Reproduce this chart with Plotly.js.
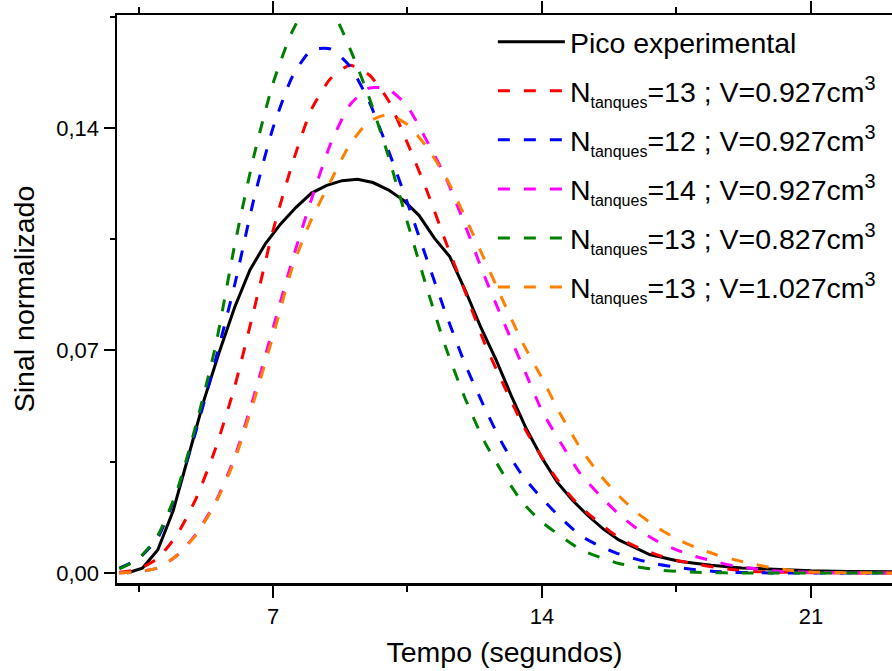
<!DOCTYPE html>
<html>
<head>
<meta charset="utf-8">
<script src="https://cdn.plot.ly/plotly-3.0.1.min.js"></script>
<style>
  html, body { margin: 0; padding: 0; background: #ffffff; overflow: hidden; }
  #chart { width: 892px; height: 671px; }
</style>
</head>
<body>
<div id="chart"></div>
<script>
// Experimental peak (time in s, normalized signal)
const tExp = [3.2,3.6,4.0,4.4,4.8,5.2,5.6,6.0,6.4,6.8,7.2,7.6,8.0,8.4,8.8,9.2,9.6,10.0,10.4,10.8,11.2,11.6,12.0,12.4,12.8,13.2,13.6,14.0,14.4,14.8,15.2,15.6,16.0,16.8,17.6,18.4,19.2,20.0,21.0,22.0,23.5];
const picoExp = [0.0000,0.0015,0.0072,0.0195,0.0368,0.0542,0.0694,0.0835,0.0953,0.1035,0.1098,0.1150,0.1195,0.1219,0.1234,0.1238,0.1228,0.1205,0.1172,0.1125,0.1053,0.0995,0.0890,0.0775,0.0672,0.0558,0.0452,0.0362,0.0285,0.0228,0.0180,0.0138,0.0104,0.0058,0.0036,0.0024,0.0016,0.0011,0.0007,0.0005,0.0004];

// Model curves (tanks-in-series), common time grid
const tSim = [3.0,3.5,4.0,4.5,5.0,5.5,6.0,6.5,7.0,7.5,8.0,8.5,9.0,9.5,10.0,10.5,11.0,11.5,12.0,12.5,13.0,13.5,14.0,14.5,15.0,15.5,16.0,16.5,17.0,17.5,18.0,18.5,19.0,19.5,20.0,20.5,21.0,22.0,23.5];
const n13v0927 = [0.0002,0.0012,0.0046,0.0120,0.0235,0.0390,0.0585,0.0825,0.1077,0.1286,0.1458,0.1555,0.1597,0.1567,0.1487,0.1352,0.1204,0.1040,0.0885,0.0725,0.0592,0.0466,0.0364,0.0277,0.0208,0.0157,0.0111,0.0080,0.0057,0.0040,0.0028,0.0018,0.0010,0.0005,0.0003,0.0002,0.0001,0.0000,0.0000];
const n12v0927 = [0.0015,0.0045,0.0110,0.0255,0.0448,0.0668,0.0905,0.1175,0.1400,0.1560,0.1645,0.1648,0.1594,0.1483,0.1330,0.1164,0.0988,0.0815,0.0657,0.0522,0.0400,0.0305,0.0234,0.0172,0.0118,0.0085,0.0060,0.0042,0.0028,0.0018,0.0010,0.0005,0.0002,0.0001,0.0000,0.0000,0.0000,0.0000,0.0000];
const n14v0927 = [0.0000,0.0004,0.0016,0.0055,0.0123,0.0222,0.0363,0.0555,0.0770,0.0983,0.1175,0.1350,0.1472,0.1525,0.1522,0.1467,0.1360,0.1243,0.1093,0.0935,0.0790,0.0650,0.0510,0.0407,0.0312,0.0245,0.0185,0.0137,0.0100,0.0073,0.0052,0.0036,0.0022,0.0014,0.0007,0.0004,0.0002,0.0000,0.0000];
const n13v0827 = [0.0013,0.0045,0.0118,0.0258,0.0468,0.0711,0.1030,0.1310,0.1540,0.1703,0.1800,0.1775,0.1650,0.1496,0.1312,0.1102,0.0898,0.0708,0.0549,0.0414,0.0310,0.0221,0.0160,0.0115,0.0074,0.0050,0.0030,0.0019,0.0010,0.0005,0.0002,0.0001,0.0000,0.0000,0.0000,0.0000,0.0000,0.0000,0.0000];
const n13v1027 = [0.0000,0.0004,0.0016,0.0055,0.0120,0.0218,0.0355,0.0540,0.0745,0.0960,0.1112,0.1232,0.1348,0.1420,0.1442,0.1410,0.1340,0.1245,0.1120,0.0987,0.0853,0.0723,0.0613,0.0495,0.0393,0.0310,0.0243,0.0187,0.0143,0.0108,0.0080,0.0059,0.0042,0.0028,0.0016,0.0008,0.0003,0.0001,0.0000];

const SUB = '<sub><span style="font-size:16px">tanques</span></sub>';
const names = [
  'Pico experimental',
  'N' + SUB + '=13 ; V=0.927cm<sup>3</sup>',
  'N' + SUB + '=12 ; V=0.927cm<sup>3</sup>',
  'N' + SUB + '=14 ; V=0.927cm<sup>3</sup>',
  'N' + SUB + '=13 ; V=0.827cm<sup>3</sup>',
  'N' + SUB + '=13 ; V=1.027cm<sup>3</sup>'
];
const colors = ['#000000', '#ff0000', '#0000ff', '#ff00ff', '#008000', '#ff8000'];
const xTicks = [7, 14, 21];
const yTicks = [0, 0.07, 0.14];
const yTickText = ['0,00', '0,07', '0,14'];

const series = [
  {x: tExp, y: picoExp},
  {x: tSim, y: n13v0927},
  {x: tSim, y: n12v0927},
  {x: tSim, y: n14v0927},
  {x: tSim, y: n13v0827},
  {x: tSim, y: n13v1027}
];

const FONT = 'Liberation Sans, Arial, Helvetica, sans-serif';

const traces = series.map((s, i) => ({
  type: 'scatter',
  mode: 'lines',
  x: s.x,
  y: s.y,
  name: names[i],
  legendgroup: 'g' + i,
  line: {
    color: colors[i],
    width: 3,
    dash: i === 0 ? 'solid' : '12px,14px',
    shape: i === 0 ? 'linear' : 'spline',
    smoothing: 0.6
  },
  hoverinfo: 'x+y+name'
}));

const layout = {
  width: 892,
  height: 671,
  margin: {l: 117, r: 0, t: 15, b: 88},
  paper_bgcolor: '#ffffff',
  plot_bgcolor: '#ffffff',
  font: {family: FONT, color: '#000000', size: 22},
  showlegend: true,
  legend: {
    x: 0.485,
    y: 0.997,
    xanchor: 'left',
    yanchor: 'top',
    bgcolor: 'rgba(0,0,0,0)',
    borderwidth: 0,
    font: {family: FONT, size: 28.5, color: '#000000'},
    itemwidth: 67,
    tracegroupgap: 9
  },
  xaxis: {
    range: [2.94, 23.11],
    tickmode: 'array',
    tickvals: xTicks,
    ticktext: xTicks.map(String),
    ticks: 'outside',
    ticklen: 12,
    tickwidth: 2,
    tickcolor: '#000000',
    minor: {dtick: 3.5, tick0: 0, ticks: 'outside', ticklen: 6, tickwidth: 2, tickcolor: '#000000', showgrid: false},
    showline: true,
    linewidth: 2.5,
    linecolor: '#000000',
    mirror: 'ticks',
    showgrid: false,
    zeroline: false,
    tickfont: {family: FONT, size: 22, color: '#000000'},
    title: {text: 'Tempo (segundos)', font: {family: FONT, size: 28.5, color: '#000000'}, standoff: 14}
  },
  yaxis: {
    range: [-0.00315, 0.1755],
    tickmode: 'array',
    tickvals: yTicks,
    ticktext: yTickText,
    ticks: 'outside',
    ticklen: 11,
    tickwidth: 2,
    tickcolor: '#000000',
    minor: {dtick: 0.035, tick0: 0, ticks: 'outside', ticklen: 5, tickwidth: 2, tickcolor: '#000000', showgrid: false},
    showline: true,
    linewidth: 2.5,
    linecolor: '#000000',
    mirror: false,
    showgrid: false,
    zeroline: false,
    tickfont: {family: FONT, size: 22, color: '#000000'},
    title: {text: 'Sinal normalizado', font: {family: FONT, size: 28.5, color: '#000000'}, standoff: 14}
  }
};

Plotly.newPlot('chart', traces, layout, {displayModeBar: false, staticPlot: true});
</script>
</body>
</html>
